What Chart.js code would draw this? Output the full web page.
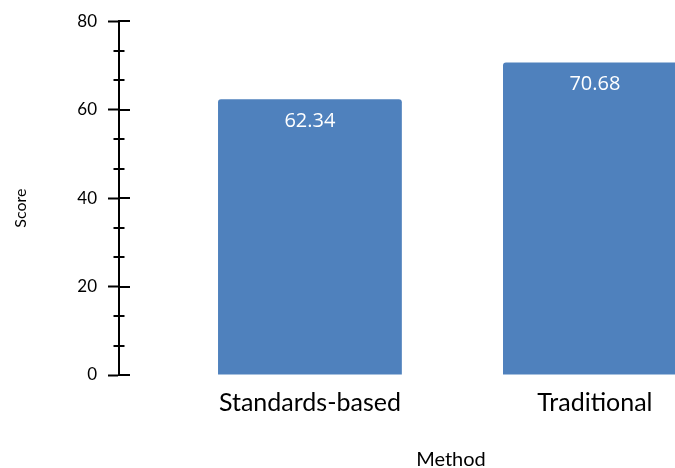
<!DOCTYPE html>
<html>
<head>
<meta charset="utf-8">
<title>Score by Method</title>
<script src="https://cdn.jsdelivr.net/npm/chart.js@4/dist/chart.umd.min.js"></script>
<style>
  html, body { margin: 0; padding: 0; overflow: hidden; background: #fff; }
  #wrap { position: relative; width: 800px; height: 468px; }
</style>
</head>
<body>
<div id="wrap"><canvas id="chart"></canvas></div>
<script>
// Mean score per grading method
const methods = ['Standards-based', 'Traditional'];
const scores = [62.34, 70.68];
const yTickValues = [0, 20, 40, 60, 80];
const minorPerMajor = 3;

const BAR_BLUE = '#4F81BD';

// Short tick marks on the inner side of the y axis, plus the minor ticks
const yAxisMarks = {
  id: 'yAxisMarks',
  afterDraw(chart) {
    const ys = chart.scales.y;
    const ctx = chart.ctx;
    const x0 = chart.chartArea.left;
    const yMin = yTickValues[0];
    const yMax = yTickValues[yTickValues.length - 1];
    const step = (yTickValues[1] - yTickValues[0]) / minorPerMajor;
    ctx.save();
    ctx.strokeStyle = '#000';
    ctx.lineWidth = 2;
    for (let k = 0; yMin + k * step <= yMax + 1e-6; k++) {
      const py = Math.round(ys.getPixelForValue(yMin + k * step));
      ctx.beginPath();
      if (k % minorPerMajor === 0) {
        ctx.moveTo(x0, py);
        ctx.lineTo(x0 + 11, py);
      } else {
        ctx.moveTo(x0 - 5.5, py);
        ctx.lineTo(x0 + 5.5, py);
      }
      ctx.stroke();
    }
    ctx.restore();
  }
};

// Value printed inside the top of each bar
const barValues = {
  id: 'barValues',
  afterDatasetsDraw(chart) {
    const ctx = chart.ctx;
    const meta = chart.getDatasetMeta(0);
    ctx.save();
    ctx.fillStyle = '#ffffff';
    ctx.font = '20px "Open Sans"';
    ctx.textAlign = 'center';
    ctx.textBaseline = 'middle';
    meta.data.forEach((bar, i) => {
      ctx.fillText(scores[i].toFixed(2), bar.x, bar.y + 22);
    });
    ctx.restore();
  }
};

// Rotated y-axis title
const yTitle = {
  id: 'yTitle',
  afterDraw(chart) {
    const ctx = chart.ctx;
    const area = chart.chartArea;
    ctx.save();
    ctx.translate(21, (area.top + area.bottom) / 2 + 10);
    ctx.rotate(-Math.PI / 2);
    ctx.fillStyle = '#000';
    ctx.font = '16px Lato';
    ctx.textAlign = 'center';
    ctx.textBaseline = 'middle';
    ctx.fillText('Score', 0, 0);
    ctx.restore();
  }
};

Chart.defaults.color = '#000';

new Chart(document.getElementById('chart'), {
  type: 'bar',
  data: {
    datasets: [{
      label: 'Score',
      data: methods.map((m, i) => ({ x: i + 1, y: scores[i] })),
      backgroundColor: BAR_BLUE,
      borderWidth: 0,
      borderRadius: { topLeft: 3, topRight: 3, bottomLeft: 0, bottomRight: 0 },
      borderSkipped: 'start',
      barPercentage: 0.645,
      categoryPercentage: 1
    }]
  },
  options: {
    responsive: true,
    maintainAspectRatio: false,
    animation: false,
    layout: { padding: { top: 20, right: 17, bottom: 0, left: 0 } },
    plugins: {
      legend: { display: false },
      tooltip: { enabled: false }
    },
    scales: {
      x: {
        type: 'linear',
        min: 0.33,
        max: 2.66,
        offset: false,
        afterBuildTicks(axis) {
          axis.ticks = methods.map((m, i) => ({ value: i + 1 }));
        },
        afterFit(axis) { axis.height = 93; },
        ticks: {
          autoSkip: false,
          maxRotation: 0,
          padding: 13,
          font: { family: 'Lato', size: 25 },
          color: '#000',
          callback: (v) => methods[v - 1] ?? ''
        },
        grid: { display: false, drawTicks: false },
        border: { display: false },
        title: {
          display: true,
          text: 'Method',
          color: '#000',
          font: { family: 'Lato', size: 20, lineHeight: 0.85 },
          padding: { top: 0, bottom: 0 }
        }
      },
      y: {
        min: yTickValues[0],
        max: yTickValues[yTickValues.length - 1],
        afterBuildTicks(axis) {
          axis.ticks = yTickValues.map(v => ({ value: v }));
        },
        afterFit(axis) { axis.width = 119; },
        ticks: {
          padding: 11,
          font: { family: 'Lato', size: 17 },
          color: '#000'
        },
        grid: {
          display: true,
          drawOnChartArea: false,
          drawTicks: true,
          tickLength: 11,
          tickWidth: 2,
          tickColor: '#000'
        },
        border: { display: true, color: '#000', width: 2 }
      }
    }
  },
  plugins: [yAxisMarks, barValues, yTitle]
});
</script>
</body>
</html>
